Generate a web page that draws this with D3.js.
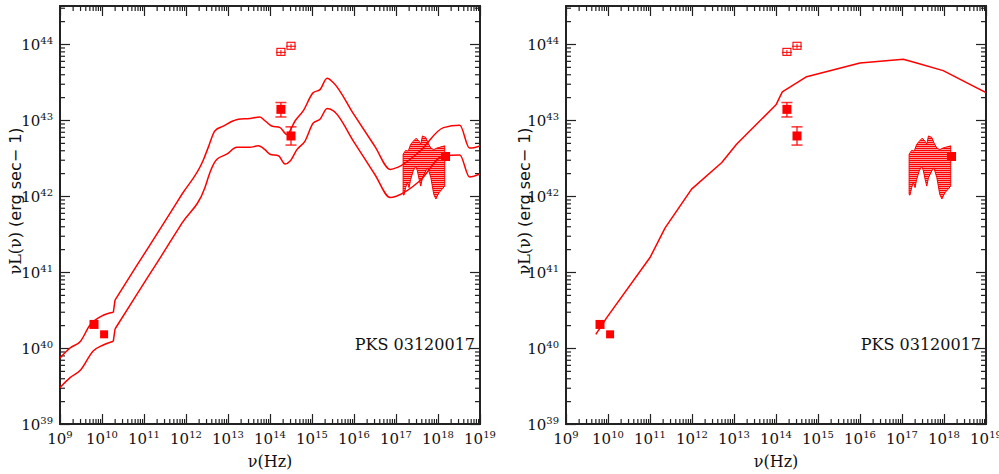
<!DOCTYPE html>
<html>
<head>
<meta charset="utf-8">
<script src="https://cdn.jsdelivr.net/npm/d3@7"></script>
<style>
  html, body { margin: 0; padding: 0; background: #fff; }
  svg { display: block; }
</style>
</head>
<body>
<svg id="chart" width="999" height="474"></svg>
<script>
// ---------------- DATA (log10 values) ----------------
const xTickExps = [9, 10, 11, 12, 13, 14, 15, 16, 17, 18, 19];
const yTickExps = [39, 40, 41, 42, 43, 44];
const sourceName = "PKS 03120017";

// left panel: upper model curve
const leftUpperLogNu = [9.0, 9.24, 9.49, 9.71, 9.99, 10.27, 10.31, 10.8, 11.4, 11.9, 12.41, 12.53, 12.69, 12.89, 13.13, 13.25, 13.52, 13.76, 13.88, 14.04, 14.24, 14.4, 14.6, 14.79, 15.03, 15.19, 15.36, 15.51, 16.0, 16.5, 16.86, 17.05, 17.57, 18.13, 18.52, 18.75, 19.0];
const leftUpperLogL  = [39.87, 40.0, 40.09, 40.30, 40.42, 40.47, 40.63, 41.06, 41.58, 42.02, 42.47, 42.64, 42.86, 42.92, 42.99, 43.01, 43.02, 43.04, 42.99, 42.92, 42.90, 42.81, 42.99, 43.12, 43.36, 43.40, 43.55, 43.49, 43.07, 42.65, 42.35, 42.38, 42.59, 42.90, 42.93, 42.63, 42.66];

// left panel: lower model curve
const leftLowerLogNu = [9.0, 9.24, 9.49, 9.79, 10.03, 10.27, 10.31, 10.8, 11.4, 11.9, 12.45, 12.57, 12.73, 12.97, 13.21, 13.52, 13.72, 13.88, 14.0, 14.2, 14.36, 14.48, 14.64, 14.83, 15.03, 15.19, 15.36, 15.51, 16.0, 16.5, 16.86, 17.02, 17.57, 18.13, 18.52, 18.75, 19.0];
const leftLowerLogL  = [39.48, 39.61, 39.71, 39.96, 40.04, 40.09, 40.25, 40.68, 41.20, 41.64, 42.11, 42.31, 42.48, 42.55, 42.64, 42.64, 42.66, 42.61, 42.55, 42.53, 42.42, 42.46, 42.61, 42.72, 42.96, 43.01, 43.15, 43.12, 42.71, 42.28, 41.98, 42.00, 42.20, 42.53, 42.54, 42.25, 42.29];

// right panel: model curve
const rightLogNu = [9.71, 9.97, 11.0, 11.36, 11.99, 12.71, 13.06, 14.0, 14.15, 14.73, 16.0, 17.03, 17.35, 17.98, 19.0];
const rightLogL  = [40.18, 40.40, 41.19, 41.58, 42.09, 42.44, 42.68, 43.20, 43.37, 43.57, 43.75, 43.80, 43.75, 43.65, 43.36];

// observed points (filled squares), with optional error bars
const filledLogNu = [9.81, 10.05, 14.26, 14.50, 18.18];
const filledLogL  = [40.31, 40.18, 43.14, 42.79, 42.52];
const filledErrLo = [null, null, 43.04, 42.67, null];
const filledErrHi = [null, null, 43.23, 42.91, null];

// open squares (upper points)
const openLogNu = [14.26, 14.50];
const openLogL  = [43.89, 43.97];

// X-ray bow-tie (hatched region) outline
const hatchLogNu = [17.17, 17.23, 17.29, 17.35, 17.41, 17.48, 17.55, 17.59, 17.63, 17.71, 17.76, 17.83, 17.90, 17.97, 18.16,
                    18.16, 18.02, 17.95, 17.90, 17.83, 17.76, 17.71, 17.63, 17.59, 17.55, 17.51, 17.47, 17.41, 17.35, 17.31, 17.27, 17.23, 17.19, 17.17];
const hatchLogL  = [42.55, 42.60, 42.59, 42.68, 42.72, 42.76, 42.72, 42.68, 42.79, 42.77, 42.70, 42.63, 42.61, 42.63, 42.66,
                    42.13, 42.04, 41.96, 42.02, 42.24, 42.37, 42.33, 42.24, 42.13, 42.22, 42.33, 42.39, 42.33, 42.22, 42.11, 42.18, 42.11, 42.01, 42.02];

// ---------------- DRAWING ----------------
const RED = "#ff0000";
const AXIS = "#222";
const svg = d3.select("#chart");
const p10 = v => Math.pow(10, v);

const defs = svg.append("defs");
const pat = defs.append("pattern").attr("id", "hatch").attr("patternUnits", "userSpaceOnUse")
  .attr("width", 4).attr("height", 2);
pat.append("rect").attr("width", 4).attr("height", 2).attr("fill", "#ff9a9a");
pat.append("rect").attr("width", 4).attr("height", 1).attr("fill", RED);

// breaks: indices where the curve has a sharp corner (drawn as a straight join)
const panels = [
  { x0: 60, curves: [[leftUpperLogNu, leftUpperLogL], [leftLowerLogNu, leftLowerLogL]], smooth: true, ylabX: 21 },
  { x0: 566, curves: [[rightLogNu, rightLogL]], smooth: false, ylabX: 530 }
];

const W = 420, yTop = 6, yBot = 424;

function supLabel(sel, base, exp) {
  sel.append("tspan").text(base);
  sel.append("tspan").attr("font-size", 10).attr("dy", -6).text(exp);
}

panels.forEach(P => {
  const x = d3.scaleLog().domain([1e9, 1e19]).range([P.x0, P.x0 + W]);
  const y = d3.scaleLog().domain([1e39, p10(44.5)]).range([yBot, yTop]);
  const g = svg.append("g");

  const cid = "clip" + P.x0;
  defs.append("clipPath").attr("id", cid).append("rect")
    .attr("x", P.x0).attr("y", yTop).attr("width", W).attr("height", yBot - yTop);

  const xMajor = xTickExps.map(p10);
  const xMinor = [];
  xTickExps.slice(0, -1).forEach(e => { for (let k = 2; k <= 9; k++) xMinor.push(k * p10(e)); });
  const yMajor = yTickExps.map(p10);
  const yMinor = [];
  yTickExps.forEach(e => { for (let k = 2; k <= 9; k++) { const v = k * p10(e); if (v <= p10(44.5)) yMinor.push(v); } });

  function axisDraw(gen, transform, vals, size) {
    const a = g.append("g").attr("transform", transform)
      .call(gen.tickValues(vals).tickSizeInner(size).tickSizeOuter(0).tickFormat(""));
    a.select(".domain").remove();
    a.selectAll("line").attr("stroke", AXIS).attr("stroke-width", 1.2);
  }
  axisDraw(d3.axisBottom(x), `translate(0,${yBot})`, xMajor, -10);
  axisDraw(d3.axisBottom(x), `translate(0,${yBot})`, xMinor, -5);
  axisDraw(d3.axisTop(x), `translate(0,${yTop})`, xMajor, -10);
  axisDraw(d3.axisTop(x), `translate(0,${yTop})`, xMinor, -5);
  axisDraw(d3.axisLeft(y), `translate(${P.x0},0)`, yMajor, -10);
  axisDraw(d3.axisLeft(y), `translate(${P.x0},0)`, yMinor, -5);
  axisDraw(d3.axisRight(y), `translate(${P.x0 + W},0)`, yMajor, -10);
  axisDraw(d3.axisRight(y), `translate(${P.x0 + W},0)`, yMinor, -5);

  g.append("rect").attr("x", P.x0).attr("y", yTop).attr("width", W).attr("height", yBot - yTop)
    .attr("fill", "none").attr("stroke", AXIS).attr("stroke-width", 2);

  xTickExps.forEach(e => {
    const t = g.append("text").attr("x", x(p10(e))).attr("y", 444)
      .attr("text-anchor", "middle").attr("font-family", "DejaVu Serif").attr("font-size", 15).attr("fill", "#111");
    supLabel(t, "10", e);
  });
  yTickExps.forEach(e => {
    const t = g.append("text").attr("x", P.x0 - 7).attr("y", y(p10(e)) + 6)
      .attr("text-anchor", "end").attr("font-family", "DejaVu Serif").attr("font-size", 15).attr("fill", "#111");
    supLabel(t, "10", e);
  });

  g.append("text").attr("x", P.x0 + W / 2).attr("y", 467).attr("text-anchor", "middle")
    .attr("font-family", "DejaVu Serif").attr("font-size", 16).attr("fill", "#111").text("ν(Hz)");
  const yl = g.append("text").attr("transform", `translate(${P.ylabX},201) rotate(-90)`)
    .attr("text-anchor", "middle").attr("font-size", 16).attr("fill", "#111");
  yl.append("tspan").attr("font-family", "DejaVu Serif").text("νL(ν) ");
  yl.append("tspan").attr("font-family", "DejaVu Sans").attr("xml:space", "preserve").text("(erg sec− 1)");

  g.append("text").attr("x", P.x0 + W - 5).attr("y", 350).attr("text-anchor", "end")
    .attr("font-family", "DejaVu Serif").attr("font-size", 16).attr("fill", "#111").text(sourceName);

  const plot = g.append("g").attr("clip-path", `url(#${cid})`);

  const hatchPts = hatchLogNu.map((v, i) => [x(p10(v)), y(p10(hatchLogL[i]))]);
  plot.append("path").attr("d", d3.line()(hatchPts) + "Z")
    .attr("fill", "url(#hatch)").attr("stroke", RED).attr("stroke-width", 1);

  P.curves.forEach(([nu, L]) => {
    const pts = nu.map((v, i) => [x(p10(v)), y(p10(L[i]))]);
    let d;
    if (P.smooth) {
      // smooth everywhere except the sharp step at the 6th/7th samples
      const sm = d3.line().curve(d3.curveMonotoneX);
      const ln = d3.line();
      d = sm(pts.slice(0, 6)) + ln(pts.slice(5, 7)) + sm(pts.slice(6));
    } else {
      d = d3.line()(pts);
    }
    plot.append("path").attr("d", d)
      .attr("fill", "none").attr("stroke", RED).attr("stroke-width", 1.5).attr("stroke-linejoin", "round");
  });

  filledLogNu.forEach((v, i) => {
    if (filledErrLo[i] == null) return;
    const cx = x(p10(v)), lo = y(p10(filledErrLo[i])), hi = y(p10(filledErrHi[i]));
    plot.append("line").attr("x1", cx).attr("x2", cx).attr("y1", lo).attr("y2", hi).attr("stroke", RED).attr("stroke-width", 1.2);
    [lo, hi].forEach(yy => plot.append("line").attr("x1", cx - 5.5).attr("x2", cx + 5.5).attr("y1", yy).attr("y2", yy)
      .attr("stroke", RED).attr("stroke-width", 1.5).attr("opacity", 0.8));
  });

  filledLogNu.forEach((v, i) => {
    const s = i === 1 ? 8 : 9;
    plot.append("rect").attr("x", x(p10(v)) - s / 2).attr("y", y(p10(filledLogL[i])) - s / 2)
      .attr("width", s).attr("height", s).attr("fill", RED);
  });

  openLogNu.forEach((v, i) => {
    const cx = x(p10(v)), cy = y(p10(openLogL[i]));
    plot.append("rect").attr("x", cx - 4).attr("y", cy - 4).attr("width", 8).attr("height", 7)
      .attr("fill", "none").attr("stroke", RED).attr("stroke-width", 1.1);
    plot.append("line").attr("x1", cx - 5).attr("x2", cx + 5).attr("y1", cy).attr("y2", cy)
      .attr("stroke", RED).attr("stroke-width", 1);
    plot.append("line").attr("x1", cx).attr("x2", cx).attr("y1", cy - 2.5).attr("y2", cy + 2.5)
      .attr("stroke", RED).attr("stroke-width", 1);
  });
});
</script>
</body>
</html>
